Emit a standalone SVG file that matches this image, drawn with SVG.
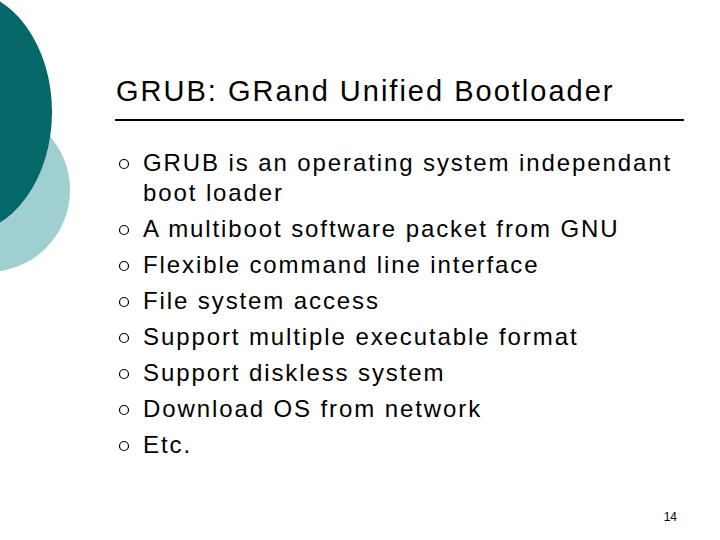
<svg xmlns="http://www.w3.org/2000/svg" width="720" height="540" viewBox="0 0 720 540">
<style>
.t{font-family:"Liberation Sans",Arial,sans-serif;font-size:24px;fill:#000;letter-spacing:1.9px}
.b{fill:none;stroke:#000;stroke-width:1.2}
</style>
<rect width="720" height="540" fill="#fff"/>
<g id="decor">
<circle cx="-12" cy="190" r="82" fill="#9fcfd0"/>
<ellipse cx="-38" cy="112" rx="90" ry="122" fill="#036867"/>
</g>
<g id="title">
<text x="116" y="101" font-family="'Liberation Sans',Arial,sans-serif" font-size="29" letter-spacing="2" fill="#000">GRUB: GRand Unified Bootloader</text>
<line x1="115" y1="120" x2="684" y2="120" stroke="#000" stroke-width="2"/>
</g>
<g id="bullets">
<circle class="b" cx="124" cy="164" r="4.5"/>
<circle class="b" cx="124" cy="230" r="4.5"/>
<circle class="b" cx="124" cy="266" r="4.5"/>
<circle class="b" cx="124" cy="302" r="4.5"/>
<circle class="b" cx="124" cy="338" r="4.5"/>
<circle class="b" cx="124" cy="374" r="4.5"/>
<circle class="b" cx="124" cy="410" r="4.5"/>
<circle class="b" cx="124" cy="446" r="4.5"/>
<text class="t" x="143" y="171">GRUB is an operating system independant</text>
<text class="t" x="143" y="201">boot loader</text>
<text class="t" x="143" y="237">A multiboot software packet from GNU</text>
<text class="t" x="143" y="273">Flexible command line interface</text>
<text class="t" x="143" y="309">File system access</text>
<text class="t" x="143" y="345">Support multiple executable format</text>
<text class="t" x="143" y="381">Support diskless system</text>
<text class="t" x="143" y="417">Download OS from network</text>
<text class="t" x="143" y="453">Etc.</text>
</g>
<text x="677" y="521" text-anchor="end" font-family="'Liberation Sans',Arial,sans-serif" font-size="12">14</text>
</svg>
